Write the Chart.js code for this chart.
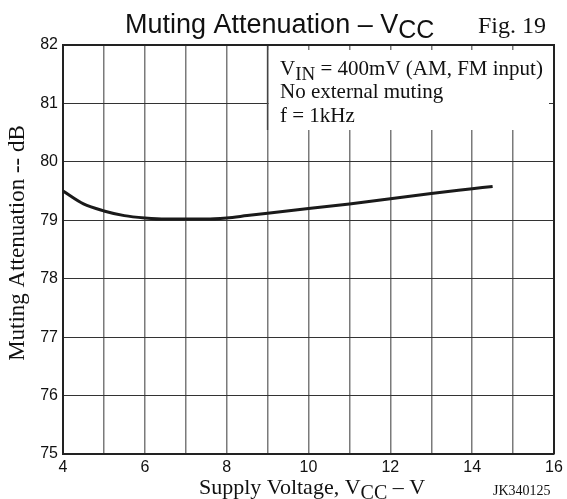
<!DOCTYPE html>
<html>
<head>
<meta charset="utf-8">
<script src="https://cdn.jsdelivr.net/npm/chart.js@4"></script>
<style>
  html, body { margin: 0; padding: 0; background: #fff; }
  #wrap { width: 567px; height: 499px; }
</style>
</head>
<body>
<div id="wrap"><canvas id="chart" width="567" height="499"></canvas></div>
<script>
// curve: supply voltage (V) vs muting attenuation (dB)
const vccValues = [4, 4.5, 5, 5.5, 6, 6.5, 7, 7.5, 8, 8.5, 9, 10, 11, 12, 13, 14, 14.5];
const attenValues = [79.5, 79.28, 79.16, 79.08, 79.04, 79.02, 79.02, 79.02, 79.04, 79.08, 79.12, 79.2, 79.28, 79.37, 79.46, 79.54, 79.58];
const xTickLabels = ['4', '6', '8', '10', '12', '14', '16'];
const yTickLabels = ['75', '76', '77', '78', '79', '80', '81', '82'];
const noteLines = ['No external muting', 'f = 1kHz'];

const serif = '"Liberation Serif", "Times New Roman", serif';
const sans = '"Liberation Sans", Arial, sans-serif';

// draw "main" + subscript + rest, returns end x
function subText(ctx, x, y, main, sub, rest, size, subSize, subDrop, font) {
  ctx.font = size + 'px ' + font;
  ctx.fillText(main, x, y);
  x += ctx.measureText(main).width;
  ctx.font = subSize + 'px ' + font;
  ctx.fillText(sub, x, y + subDrop);
  x += ctx.measureText(sub).width;
  ctx.font = size + 'px ' + font;
  ctx.fillText(rest, x, y);
  return x + ctx.measureText(rest).width;
}

const decorPlugin = {
  id: 'decor',
  afterDatasetsDraw(chart) {
    const ctx = chart.ctx;
    const a = chart.chartArea;
    const xs = chart.scales.x;
    const x9 = xs.getPixelForValue(9);
    ctx.save();
    // note box covering the grid in the upper right
    ctx.fillStyle = '#fff';
    ctx.fillRect(x9 + 1, a.top + 5, a.right - 5 - x9 - 1, 80);
    ctx.strokeStyle = '#444';
    ctx.lineWidth = 1.5;
    ctx.beginPath();
    ctx.moveTo(x9, a.top);
    ctx.lineTo(x9, a.top + 85);
    ctx.stroke();
    // top and right frame
    ctx.lineWidth = 2;
    ctx.strokeStyle = '#222';
    ctx.beginPath();
    ctx.moveTo(a.left, a.top);
    ctx.lineTo(a.right, a.top);
    ctx.lineTo(a.right, a.bottom);
    ctx.stroke();

    ctx.fillStyle = '#111';
    ctx.textBaseline = 'alphabetic';
    ctx.textAlign = 'left';
    subText(ctx, 280, 75, 'V', 'IN', ' = 400mV (AM, FM input)', 21, 19, 5, serif);
    ctx.font = '21px ' + serif;
    ctx.fillText(noteLines[0], 280, 98);
    ctx.fillText(noteLines[1], 280, 122);

    // title
    subText(ctx, 125, 33, 'Muting Attenuation \u2013 V', 'CC', '', 27, 25, 5, sans);
    ctx.font = '24px ' + serif;
    ctx.fillText('Fig. 19', 478, 33);

    // x title
    subText(ctx, 199, 494, 'Supply Voltage, V', 'CC', ' \u2013 V', 22, 20, 5, serif);
    ctx.font = '14px ' + serif;
    ctx.fillText('JK340125', 493, 495);

    // y title
    ctx.translate(24, 243);
    ctx.rotate(-Math.PI / 2);
    ctx.textAlign = 'center';
    ctx.font = '23px ' + serif;
    ctx.fillText('Muting Attenuation -- dB', 0, 0);
    ctx.restore();
  }
};

new Chart(document.getElementById('chart'), {
  type: 'line',
  data: {
    datasets: [{
      data: vccValues.map((v, i) => ({ x: v, y: attenValues[i] })),
      borderColor: '#1a1a1a',
      borderWidth: 3,
      pointRadius: 0,
      cubicInterpolationMode: 'monotone',
      fill: false
    }]
  },
  options: {
    responsive: false,
    animation: false,
    layout: { padding: { left: 0, right: 13, top: 45, bottom: 0 } },
    plugins: { legend: { display: false }, tooltip: { enabled: false } },
    scales: {
      x: {
        type: 'linear',
        min: 4,
        max: 16,
        afterFit: s => { s.height = 45; },
        afterBuildTicks: s => { s.ticks = Array.from({ length: 13 }, (_, i) => ({ value: 4 + i })); },
        ticks: {
          autoSkip: false,
          maxRotation: 0,
          padding: 4,
          color: '#111',
          font: { family: sans, size: 16 },
          callback: v => xTickLabels.includes(String(v)) ? String(v) : ''
        },
        grid: { color: '#7a7a7a', lineWidth: 1.5, drawTicks: false },
        border: { display: true, color: '#222', width: 2 }
      },
      y: {
        min: 75,
        max: 82,
        afterFit: s => { s.width = 63; },
        afterBuildTicks: s => { s.ticks = yTickLabels.map(t => ({ value: Number(t) })); },
        ticks: {
          padding: 5,
          color: '#111',
          font: { family: sans, size: 16 },
          callback: v => String(v)
        },
        grid: { color: '#333', lineWidth: 1, drawTicks: false },
        border: { display: true, color: '#222', width: 2 }
      }
    }
  },
  plugins: [decorPlugin]
});
</script>
</body>
</html>
